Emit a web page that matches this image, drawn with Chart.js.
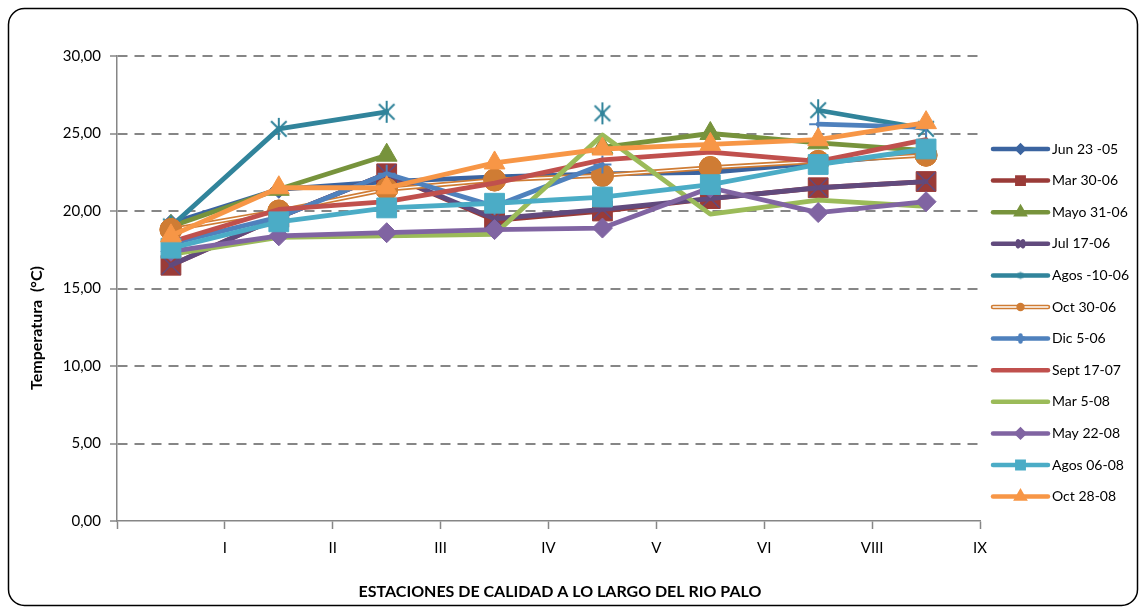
<!DOCTYPE html>
<html>
<head>
<meta charset="utf-8">
<script src="https://cdn.jsdelivr.net/npm/chart.js@4.4.1/dist/chart.umd.min.js"></script>
<style>
  html, body { margin: 0; padding: 0; background: #fff; }
  #wrap { width: 1144px; height: 613px; }
</style>
</head>
<body>
<div id="wrap"><canvas id="chart" width="1144" height="613"></canvas></div>
<script>
// Stations along the river (x axis) and temperature readings per sampling date
const stations = ['I', 'II', 'III', 'IV', 'V', 'VI', 'VIII', 'IX'];
const seriesLabels = ['Jun 23 -05', 'Mar 30-06', 'Mayo 31-06', 'Jul 17-06', 'Agos -10-06', 'Oct 30-06',
  'Dic 5-06', 'Sept 17-07', 'Mar 5-08', 'May 22-08', 'Agos 06-08', 'Oct 28-08'];

const jun2305  = [19.2, 21.4, 21.9, 22.2, 22.4, 22.5, 23.1, 23.7];
const mar3006  = [16.5, 19.6, 22.4, 19.4, 20.0, 20.8, 21.5, 21.9];
const mayo3106 = [19.0, 21.4, 23.6, null, 24.1, 25.0, 24.4, 23.9];
const jul1706  = [16.5, 19.6, 22.4, 19.5, 20.1, 20.8, 21.5, 21.9];
const agos1006 = [19.0, 25.3, 26.4, null, 26.3, null, 26.5, 25.3];
const oct3006  = [18.8, 20.0, 21.4, 22.0, 22.3, 22.8, 23.2, 23.6];
const dic506   = [17.9, 19.6, 22.4, 20.3, 23.0, null, 25.6, 25.4];
const sept1707 = [18.0, 20.1, 20.6, 21.8, 23.3, 23.8, 23.2, 24.6];
const mar508   = [17.2, 18.3, 18.4, 18.5, 24.9, 19.8, 20.7, 20.3];
const may2208  = [17.4, 18.4, 18.6, 18.8, 18.9, 21.5, 19.9, 20.6];
const agos0608 = [17.6, 19.3, 20.2, 20.5, 20.9, 21.7, 23.0, 24.0];
const oct2808  = [18.4, 21.5, 21.5, 23.1, 24.0, 24.3, 24.6, 25.7];

const seriesValues = [jun2305, mar3006, mayo3106, jul1706, agos1006, oct3006,
  dic506, sept1707, mar508, may2208, agos0608, oct2808];

// Six-ray asterisk marker (vertical bar plus an X)
function asterisk(r, color, lw) {
  const c = document.createElement('canvas');
  const s = Math.ceil(2 * r + 2 * lw);
  c.width = c.height = s;
  const g = c.getContext('2d');
  const m = s / 2;
  const d = r * Math.SQRT1_2;
  g.strokeStyle = color;
  g.lineWidth = lw;
  g.beginPath();
  g.moveTo(m, m - r); g.lineTo(m, m + r);
  g.moveTo(m - d, m - d); g.lineTo(m + d, m + d);
  g.moveTo(m + d, m - d); g.lineTo(m - d, m + d);
  g.stroke();
  return c;
}

// marker radius on the plot (r) and in the legend (lr)
const styles = [
  { color: '#3B64A0', marker: 'rectRot', r: 9,  lr: 3 },
  { color: '#9A3B38', marker: 'rect',    r: 14, lr: 4.5 },
  { color: '#77933C', marker: 'triangle', r: 12, lr: 4 },
  { color: '#614A7D', marker: 'crossRot', r: 13, lr: 3.5, bw: 1.5 },
  { color: '#31849B', marker: 'asterisk', r: 11, lr: 3.5, bw: 2 },
  { color: '#CF7C34', marker: 'circle',  r: 11, lr: 3.5 },
  { color: '#4F81BD', marker: 'cross',   r: 9,  lr: 3, bw: 2 },
  { color: '#C0504D', marker: null },
  { color: '#9BBB59', marker: null },
  { color: '#8064A2', marker: 'rectRot', r: 10, lr: 3.5 },
  { color: '#4BACC6', marker: 'rect',    r: 14, lr: 4.5 },
  { color: '#F79646', marker: 'triangle', r: 12, lr: 4 }
];
const doubleLine = 5; // Oct 30-06 uses a hollow (double) line

const datasets = seriesValues.map((vals, i) => {
  const st = styles[i];
  let ps = st.marker || false;
  if (st.marker === 'asterisk') ps = asterisk(st.r, st.color, st.bw);
  return {
    label: seriesLabels[i],
    data: vals.map((v, k) => ({ x: k + 0.5, y: v })),
    borderColor: st.color,
    backgroundColor: st.color,
    borderWidth: 4.8,
    borderJoinStyle: 'round',
    borderCapStyle: 'round',
    pointStyle: ps,
    pointRadius: st.marker ? st.r : 0,
    pointBackgroundColor: st.color,
    pointBorderColor: st.color,
    pointBorderWidth: st.bw || 1,
    tension: 0,
    spanGaps: false,
    order: seriesValues.length - i
  };
});

const FONT = 'Lato, "Noto Sans", sans-serif';
Chart.defaults.font.family = FONT;
Chart.defaults.color = '#000';

const framePlugin = {
  id: 'frame',
  beforeDraw(chart) {
    const ctx = chart.ctx;
    ctx.save();
    ctx.fillStyle = '#fff';
    ctx.fillRect(0, 0, chart.width, chart.height);
    ctx.restore();
  },
  afterDraw(chart) {
    const ctx = chart.ctx;
    const x = 8.5, y = 8.5, w = 1129, h = 597, r = 16;
    ctx.save();
    ctx.strokeStyle = '#000';
    ctx.lineWidth = 1.5;
    ctx.beginPath();
    ctx.moveTo(x + r, y);
    ctx.arcTo(x + w, y, x + w, y + h, r);
    ctx.arcTo(x + w, y + h, x, y + h, r);
    ctx.arcTo(x, y + h, x, y, r);
    ctx.arcTo(x, y, x + w, y, r);
    ctx.closePath();
    ctx.stroke();

    // axis titles
    ctx.fillStyle = '#000';
    ctx.font = 'bold 16px ' + FONT;
    ctx.textAlign = 'center';
    ctx.textBaseline = 'middle';
    ctx.fillText('ESTACIONES DE CALIDAD A LO LARGO DEL RIO PALO', 560, 592);
    ctx.translate(37, 328);
    ctx.rotate(-Math.PI / 2);
    ctx.font = 'bold 16px ' + FONT;
    ctx.fillText('Temperatura  (°C)', 0, 0);
    ctx.restore();
  }
};

// White core stroked over the Oct 30-06 line
const hollowLinePlugin = {
  id: 'hollowLine',
  afterDatasetDraw(chart, args) {
    if (args.index !== doubleLine) return;
    const ctx = chart.ctx;
    const pts = args.meta.data;
    ctx.save();
    ctx.strokeStyle = '#fff';
    ctx.lineWidth = 1.3;
    ctx.lineJoin = 'round';
    ctx.beginPath();
    for (let k = 1; k < pts.length; k++) {
      if (pts[k].skip || pts[k - 1].skip) continue;
      ctx.moveTo(pts[k - 1].x, pts[k - 1].y);
      ctx.lineTo(pts[k].x, pts[k].y);
    }
    ctx.stroke();
    ctx.restore();
    pts.forEach(p => p.draw(ctx, chart.chartArea));
  }
};

const legendPlugin = {
  id: 'sideLegend',
  afterDraw(chart) {
    const ctx = chart.ctx;
    const lx = 993, lw = 55, top = 149, gap = 31.6;
    chart.data.datasets.forEach((ds, i) => {
      const st = styles[i];
      const y = top + i * gap;
      ctx.save();
      ctx.strokeStyle = st.color;
      ctx.lineWidth = 4.5;
      ctx.lineCap = 'round';
      ctx.beginPath();
      ctx.moveTo(lx, y);
      ctx.lineTo(lx + lw, y);
      ctx.stroke();
      if (i === doubleLine) {
        ctx.strokeStyle = '#fff';
        ctx.lineWidth = 1.3;
        ctx.beginPath();
        ctx.moveTo(lx, y);
        ctx.lineTo(lx + lw, y);
        ctx.stroke();
      }
      const cx = lx + lw / 2;
      if (st.marker === 'asterisk') {
        const img = asterisk(st.lr, st.color, 1.5);
        ctx.drawImage(img, cx - img.width / 2, y - img.height / 2);
      } else if (st.marker) {
        ctx.fillStyle = st.color;
        ctx.strokeStyle = st.color;
        Chart.helpers.drawPoint(ctx, {
          pointStyle: st.marker, radius: st.lr, rotation: 0, borderWidth: st.bw || 1
        }, cx, y);
      }
      ctx.fillStyle = '#000';
      ctx.font = '14px ' + FONT;
      ctx.textAlign = 'left';
      ctx.textBaseline = 'middle';
      ctx.fillText(ds.label, lx + lw + 4, y);
      ctx.restore();
    });
  }
};

new Chart(document.getElementById('chart'), {
  type: 'line',
  data: { datasets },
  plugins: [framePlugin, hollowLinePlugin, legendPlugin],
  options: {
    responsive: false,
    animation: false,
    events: [],
    layout: { padding: { top: 56, right: 164, left: 0, bottom: 0 } },
    plugins: { legend: { display: false }, tooltip: { enabled: false } },
    scales: {
      x: {
        type: 'linear',
        min: 0,
        max: stations.length,
        afterFit: s => { s.height = 92; },
        afterBuildTicks: s => {
          s.ticks = stations.map((_, k) => ({ value: k + 1 }));
          s.ticks.unshift({ value: 0 });
        },
        ticks: {
          autoSkip: false,
          maxRotation: 0,
          padding: 10,
          font: { size: 15 },
          callback: v => (v >= 1 ? stations[v - 1] : '')
        },
        grid: {
          drawOnChartArea: false,
          drawTicks: true,
          tickLength: 8,
          tickColor: '#868686',
          tickWidth: 1.5
        },
        border: { color: '#868686', width: 1.5 }
      },
      y: {
        min: 0,
        max: 30,
        afterFit: s => { s.width = 117; },
        ticks: {
          stepSize: 5,
          padding: 9,
          font: { size: 15 },
          callback: v => v.toFixed(2).replace('.', ',')
        },
        grid: {
          color: ctx => (ctx.tick && ctx.tick.value === 0 ? 'rgba(0,0,0,0)' : '#868686'),
          lineWidth: 2,
          drawTicks: true,
          tickLength: 7,
          tickColor: '#868686',
          tickWidth: 1.5
        },
        border: { color: '#868686', width: 1.5, dash: [10, 7] }
      }
    }
  }
});
</script>
</body>
</html>
